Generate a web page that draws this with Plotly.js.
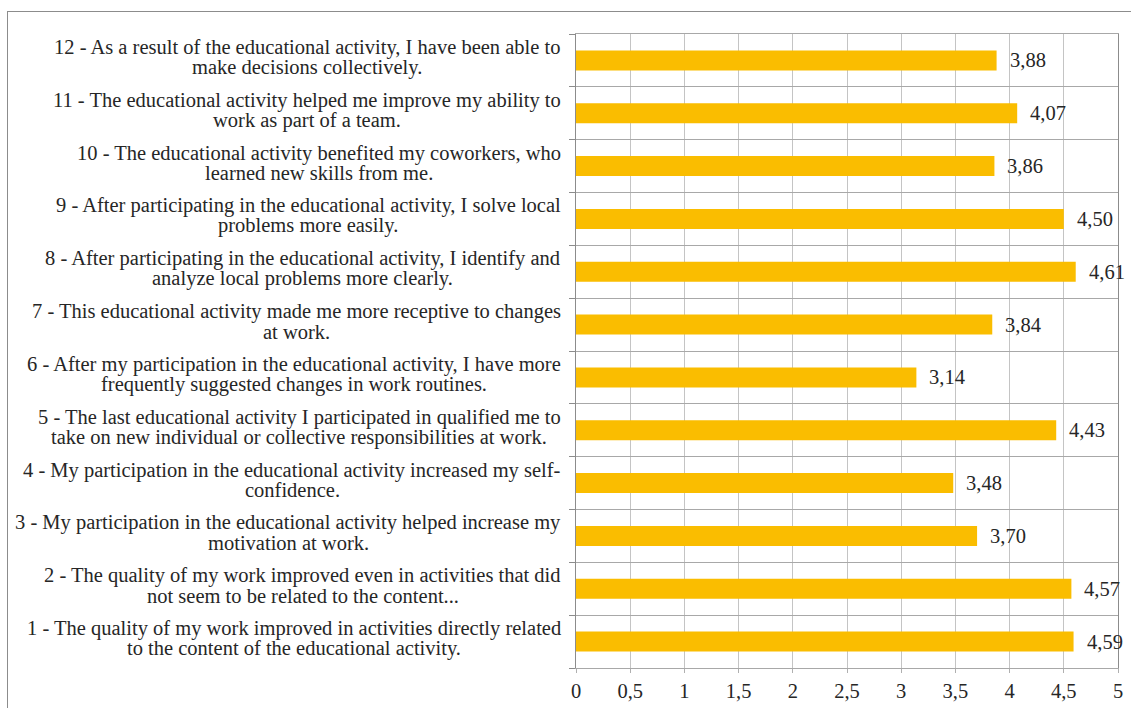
<!DOCTYPE html>
<html>
<head>
<meta charset="utf-8">
<script src="https://cdn.plot.ly/plotly-3.0.1.min.js"></script>
<style>
  html, body { margin: 0; padding: 0; background: #fff; }
  #frame { position: absolute; left: 7px; top: 11px; width: 1140px; height: 720px;
           border-top: 1px solid #8c8c8c; border-left: 1px solid #8c8c8c; pointer-events: none; }
  #chart { position: absolute; left: 0; top: 0; width: 1131px; height: 708px; }
</style>
</head>
<body>
<div id="chart"></div>
<div id="frame"></div>
<script>
// Data (bottom to top)
const itemIds = ["1", "2", "3", "4", "5", "6", "7", "8", "9", "10", "11", "12"];
const itemLabelLine1 = [
  "1 - The quality of my work improved in activities directly related",
  "2 - The quality of my work improved even in activities that did",
  "3 - My participation in the educational activity helped increase my",
  "4 - My participation in the educational activity increased my self-",
  "5 - The last educational activity I participated in qualified me to",
  "6 - After my participation in the educational activity, I have more",
  "7 - This educational activity made me more receptive to changes",
  "8 - After participating in the educational activity, I identify and",
  "9 - After participating in the educational activity, I solve local",
  "10 - The educational activity benefited my coworkers, who",
  "11 - The educational activity helped me improve my ability to",
  "12 - As a result of the educational activity, I have been able to"
];
const itemLabelLine2 = [
  "to the content of the educational activity.",
  "not seem to be related to the content...",
  "motivation at work.",
  "confidence.",
  "take on new individual or collective responsibilities at work.",
  "frequently suggested changes in work routines.",
  "at work.",
  "analyze local problems more clearly.",
  "problems more easily.",
  "learned new skills from me.",
  "work as part of a team.",
  "make decisions collectively."
];
const scores = [4.59, 4.57, 3.70, 3.48, 4.43, 3.14, 3.84, 4.61, 4.50, 3.86, 4.07, 3.88];
const xTickVals = [0, 0.5, 1, 1.5, 2, 2.5, 3, 3.5, 4, 4.5, 5];
const xTickText = ["0", "0,5", "1", "1,5", "2", "2,5", "3", "3,5", "4", "4,5", "5"];

const FONT = "'Liberation Serif', 'Times New Roman', Times, serif";
const FSIZE = 20.5;
const TXT = "#262626";

// measure text widths so each two-line label is centred as a block
const ctx = document.createElement("canvas").getContext("2d");
ctx.font = FSIZE + "px " + FONT;
function textW(s) { return ctx.measureText(s).width; }

const annotations = [];
itemIds.forEach((id, i) => {
  const w = Math.max(textW(itemLabelLine1[i]), textW(itemLabelLine2[i]));
  const cx = -15 - w / 2;
  [[itemLabelLine1[i], 13], [itemLabelLine2[i], -7]].forEach(([t, ys]) => {
    annotations.push({
      xref: "paper", yref: "y", x: 0, y: i,
      xanchor: "center", yanchor: "middle", xshift: cx, yshift: ys,
      showarrow: false, text: t,
      font: { family: FONT, size: FSIZE, color: TXT }
    });
  });
  annotations.push({
    xref: "x", yref: "y", x: scores[i], y: i,
    xanchor: "left", yanchor: "middle", xshift: 11,
    showarrow: false,
    text: scores[i].toFixed(2).replace(".", ","),
    font: { family: FONT, size: FSIZE, color: TXT }
  });
});

const trace = {
  type: "bar",
  orientation: "h",
  x: scores,
  y: itemIds,
  width: 0.38,
  marker: { color: "#FABD00", line: { width: 0 } },
  hoverinfo: "skip"
};

const layout = {
  width: 1131, height: 708,
  margin: { l: 576, r: 13, t: 34, b: 40, pad: 0 },
  paper_bgcolor: "rgba(0,0,0,0)",
  plot_bgcolor: "#ffffff",
  showlegend: false,
  font: { family: FONT, size: FSIZE, color: TXT },
  xaxis: {
    range: [0, 5],
    tickvals: xTickVals,
    ticktext: xTickText,
    showgrid: true, gridcolor: "#c4c4c4", gridwidth: 1,
    zeroline: false,
    showline: true, linecolor: "#a8a8a8", linewidth: 1, mirror: true,
    ticks: "outside", ticklen: 4, tickcolor: "#b0b0b0",
    tickfont: { family: FONT, size: FSIZE, color: TXT },
    fixedrange: true
  },
  yaxis: {
    type: "category",
    categoryorder: "array",
    categoryarray: itemIds,
    range: [-0.5, 11.5],
    tickson: "boundaries",
    showticklabels: false,
    showgrid: true, gridcolor: "#a8a8a8", gridwidth: 1,
    showline: true, linecolor: "#8c8c8c", linewidth: 1, mirror: true,
    ticks: "outside", ticklen: 6, tickcolor: "#8c8c8c",
    fixedrange: true
  },
  annotations: annotations
};

Plotly.newPlot("chart", [trace], layout, { displayModeBar: false, staticPlot: true });
</script>
</body>
</html>
